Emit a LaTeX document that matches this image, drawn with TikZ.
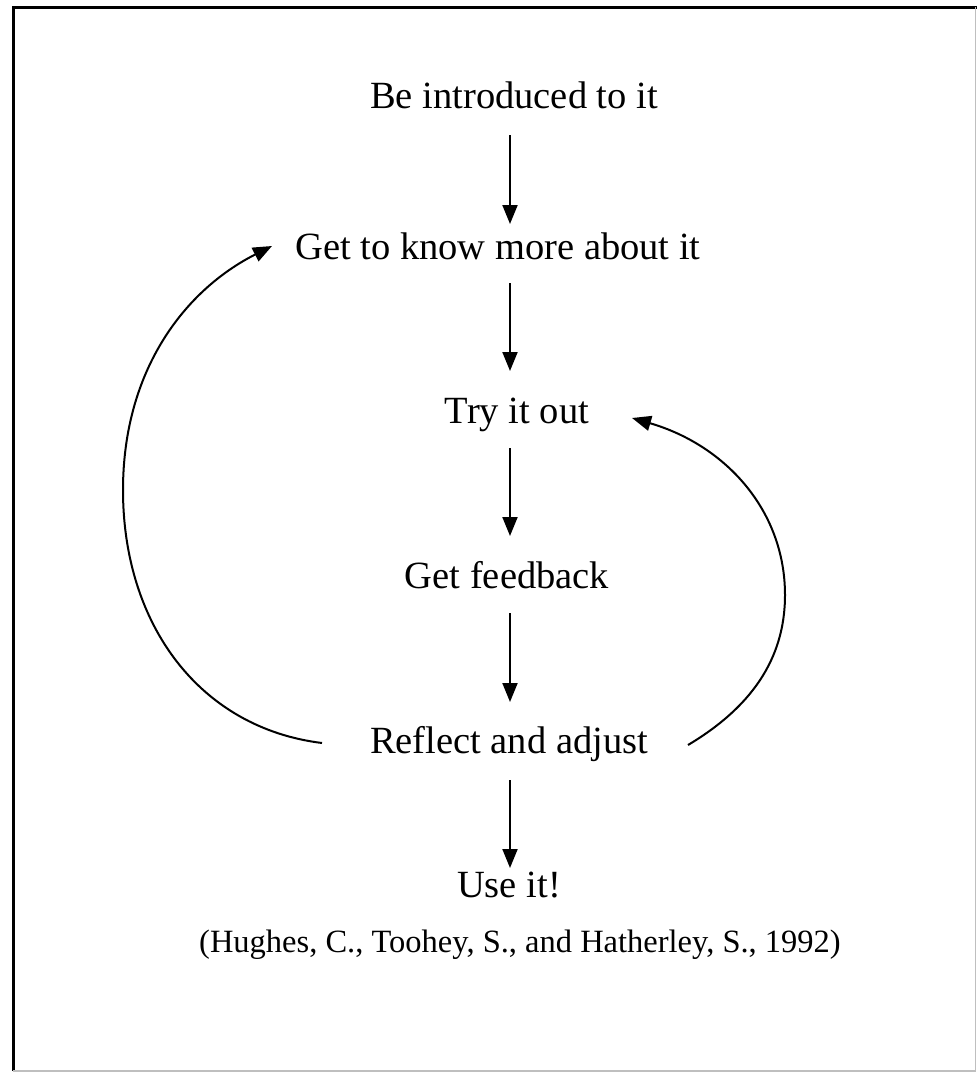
\documentclass[tikz,border=0pt]{standalone}
\usepackage{fontspec}
\setmainfont{Liberation Serif}
\usetikzlibrary{arrows.meta}
\tikzset{
  lbl/.style={anchor=base, inner sep=0pt, font=\fontsize{38.5}{46}\selectfont},
  cite/.style={anchor=base, inner sep=0pt, font=\fontsize{32.5}{40}\selectfont},
  flow/.style={line width=2pt, -{Triangle[width=15pt,length=19pt]}},
  loop/.style={line width=2pt, -{Triangle[width=15pt,length=19pt]}}
}
\begin{document}
\begin{tikzpicture}[x=1pt,y=-1pt]
\useasboundingbox (0,0) rectangle (977,1073);
\fill[white] (0,0) rectangle (977,1073);
% frame
\draw[black, line width=3pt] (13,1071) -- (13,7.5) -- (977,7.5);
\draw[black!25, line width=1.5pt] (975.5,7.5) -- (975.5,1071) -- (13,1071);
% texts
\node[lbl] (intro) at (514,108) {Be introduced to it};
\node[lbl] (know) at (498,259) {Get to know more about it};
\node[lbl] (try) at (517,423) {Try it out};
\node[lbl] (feed) at (507,588) {Get feedback};
\node[lbl] (refl) at (509,753) {Reflect and adjust};
\node[lbl] (use) at (509,897) {Use it!};
\node[cite] (cit) at (520,952) {(Hughes, C., Toohey, S., and Hatherley, S., 1992)};
% arrow anchor coordinates
\coordinate (a1s) at (510,135); \coordinate (a1e) at (510,224);
\coordinate (a2s) at (510,283); \coordinate (a2e) at (510,371);
\coordinate (a3s) at (510,448); \coordinate (a3e) at (510,536);
\coordinate (a4s) at (510,613); \coordinate (a4e) at (510,702);
\coordinate (a5s) at (510,780); \coordinate (a5e) at (510,868);
\draw[flow] (a1s) -- (a1e);
\draw[flow] (a2s) -- (a2e);
\draw[flow] (a3s) -- (a3e);
\draw[flow] (a4s) -- (a4e);
\draw[flow] (a5s) -- (a5e);
% loops
\coordinate (ls) at (322,743);
\coordinate (lm) at (123,490);
\coordinate (le) at (272,246);
\draw[loop] (ls) .. controls (200,728) and (123,625) .. (lm)
  .. controls (123,370) and (185,290) .. (le);
\coordinate (rs) at (688,745);
\coordinate (rm) at (785,595);
\coordinate (re) at (632,418);
\draw[loop] (rs) .. controls (750,708) and (785,660) .. (rm)
  .. controls (785,510) and (725,445) .. (re);
\end{tikzpicture}
\end{document}
